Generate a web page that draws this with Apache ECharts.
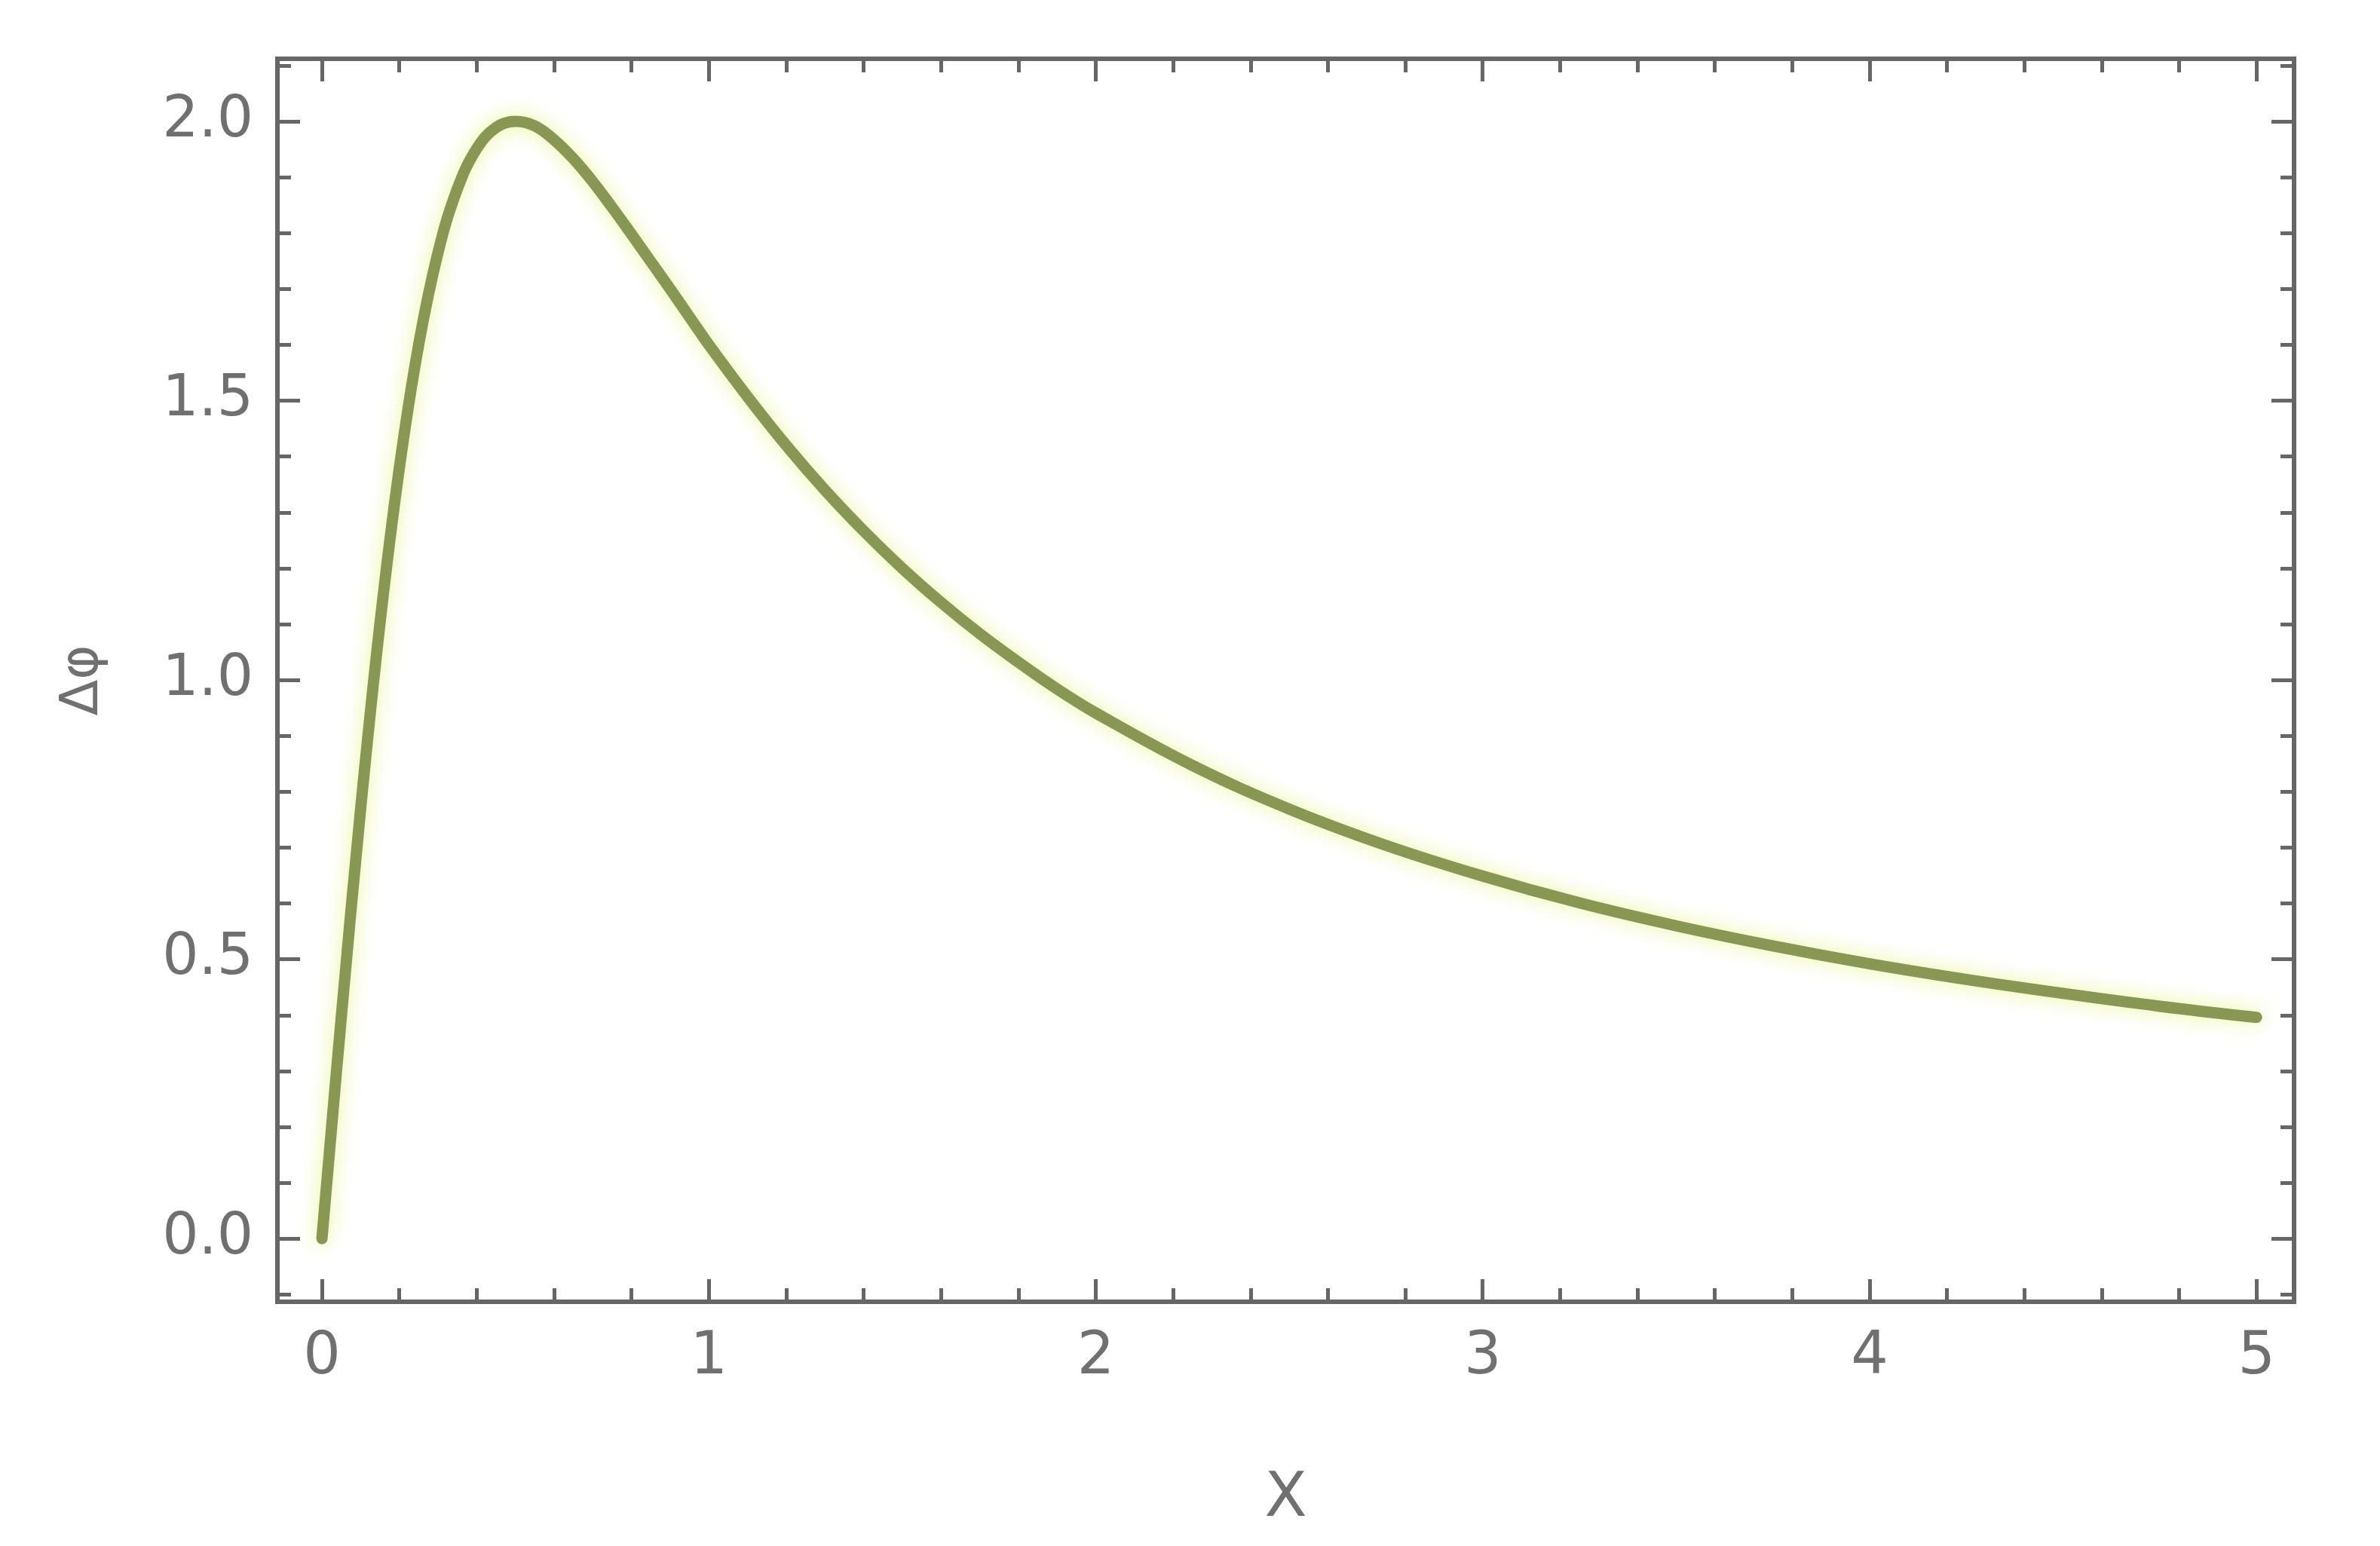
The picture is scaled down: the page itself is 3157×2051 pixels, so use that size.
<!DOCTYPE html>
<html>
<head>
<meta charset="utf-8">
<script src="https://cdn.jsdelivr.net/npm/echarts@6/dist/echarts.min.js"></script>
<style>
  html, body { margin: 0; padding: 0; background: #fff; }
  #chart { width: 3157px; height: 2051px; }
</style>
</head>
<body>
<div id="chart"></div>
<script>
  // values
  var xValues = [0, 0.05, 0.1, 0.15, 0.2, 0.25, 0.3, 0.35, 0.4, 0.45, 0.5, 0.55, 0.6, 0.65, 0.7, 0.75, 0.8, 0.85, 0.9, 0.95, 1.0,
    1.1, 1.2, 1.3, 1.4, 1.5, 1.6, 1.7, 1.8, 1.9, 2.0, 2.25, 2.5, 2.75, 3.0, 3.25, 3.5, 3.75, 4.0, 4.25, 4.5, 4.75, 5.0]
  var yValues = [0, 0.396, 0.769, 1.101, 1.379, 1.600, 1.765, 1.879, 1.951, 1.989, 2.000, 1.992, 1.967, 1.933, 1.892, 1.846, 1.798, 1.749, 1.700, 1.650, 1.600,
    1.507, 1.420, 1.340, 1.267, 1.200, 1.139, 1.083, 1.032, 0.984, 0.941, 0.847, 0.769, 0.704, 0.649, 0.601, 0.560, 0.524, 0.492, 0.464, 0.439, 0.416, 0.396]

  var xMajor = [0, 1, 2, 3, 4, 5]
  var xMinor = [0.2, 0.4, 0.6, 0.8, 1.2, 1.4, 1.6, 1.8, 2.2, 2.4, 2.6, 2.8, 3.2, 3.4, 3.6, 3.8, 4.2, 4.4, 4.6, 4.8]
  var yMajor = [0, 0.5, 1, 1.5, 2]
  var yMinor = [-0.1, 0.1, 0.2, 0.3, 0.4, 0.6, 0.7, 0.8, 0.9, 1.1, 1.2, 1.3, 1.4, 1.6, 1.7, 1.8, 1.9, 2.1]

  var xRange = [-0.115, 5.097]
  var yRange = [-0.113, 2.112]

  var frameColor = '#666'
  var labelColor = '#707070'
  var points = xValues.map(function (x, i) { return [x, yValues[i]] })

  function tickAxis(position, values, len, withLabels, isX) {
    var ax = {
      type: 'value',
      position: position,
      min: isX ? xRange[0] : yRange[0],
      max: isX ? xRange[1] : yRange[1],
      splitLine: { show: false },
      axisLine: { show: false, onZero: false },
      axisTick: {
        show: true,
        inside: true,
        length: len,
        customValues: values,
        lineStyle: { color: frameColor, width: 5 }
      },
      axisLabel: { show: false }
    }
    if (withLabels) {
      ax.axisLabel = {
        show: true,
        customValues: values,
        color: labelColor,
        fontFamily: 'DejaVu Sans',
        fontSize: isX ? 78 : 76,
        margin: isX ? 36 : 32,
        formatter: function (v) { return isX ? String(v) : v.toFixed(1) }
      }
    }
    return ax
  }

  var xAxes = [
    tickAxis('bottom', xMajor, 30, true, true),
    tickAxis('bottom', xMinor, 18, false, true),
    tickAxis('top', xMajor, 30, false, true),
    tickAxis('top', xMinor, 18, false, true)
  ]
  xAxes[0].name = 'X'
  xAxes[0].nameLocation = 'middle'
  xAxes[0].nameGap = 222
  xAxes[0].nameTextStyle = { color: labelColor, fontFamily: 'DejaVu Sans', fontSize: 82 }

  var yAxes = [
    tickAxis('left', yMajor, 30, true, false),
    tickAxis('left', yMinor, 18, false, false),
    tickAxis('right', yMajor, 30, false, false),
    tickAxis('right', yMinor, 18, false, false)
  ]
  yAxes[0].name = 'Δφ'
  yAxes[0].nameLocation = 'middle'
  yAxes[0].nameRotate = 90
  yAxes[0].nameGap = 222
  yAxes[0].nameTextStyle = { color: labelColor, fontFamily: 'DejaVu Sans', fontSize: 70 }

  var chart = echarts.init(document.getElementById('chart'), null, { renderer: 'canvas' })
  chart.setOption({
    backgroundColor: '#ffffff',
    animation: false,
    grid: {
      left: 368,
      top: 78,
      width: 2675,
      height: 1649,
      show: true,
      borderColor: frameColor,
      borderWidth: 6,
      backgroundColor: 'transparent'
    },
    xAxis: xAxes,
    yAxis: yAxes,
    series: [{
      type: 'line',
      data: points,
      xAxisIndex: 0,
      yAxisIndex: 0,
      smooth: 0.4,
      showSymbol: false,
      clip: false,
      lineStyle: {
        color: '#889853',
        width: 15,
        cap: 'round',
        join: 'round',
        shadowColor: 'rgba(225, 240, 100, 0.7)',
        shadowBlur: 26
      }
    }]
  })
</script>
</body>
</html>
